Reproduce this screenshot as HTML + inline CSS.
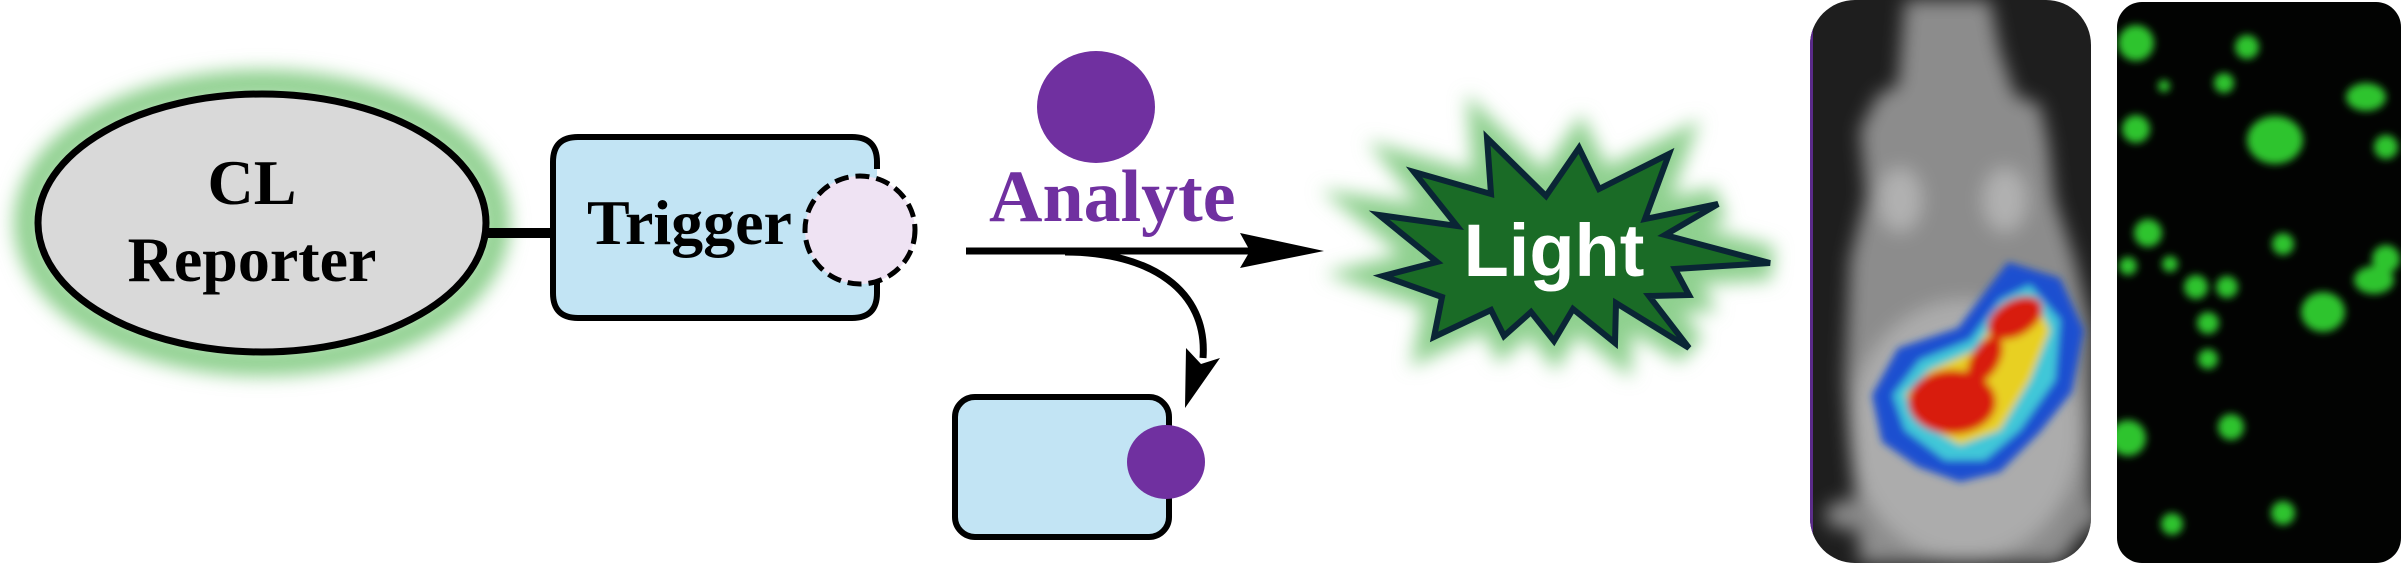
<!DOCTYPE html>
<html><head><meta charset="utf-8"><style>
html,body{margin:0;padding:0;background:#fff;}
svg{display:block;}
</style></head><body>
<svg width="2401" height="563" viewBox="0 0 2401 563" xmlns="http://www.w3.org/2000/svg">
<defs>
<filter id="glow" x="-30%" y="-30%" width="160%" height="160%"><feGaussianBlur stdDeviation="9"/></filter>
<filter id="soft" x="-50%" y="-50%" width="200%" height="200%"><feGaussianBlur stdDeviation="4"/></filter>
<filter id="soft2" x="-50%" y="-50%" width="200%" height="200%"><feGaussianBlur stdDeviation="9"/></filter>
<filter id="heat" x="-20%" y="-20%" width="140%" height="140%"><feGaussianBlur stdDeviation="4"/></filter>
<clipPath id="c1"><rect x="1810" y="0" width="281" height="563" rx="45"/></clipPath>
<clipPath id="c2"><rect x="2117" y="2" width="284" height="561" rx="25"/></clipPath>
</defs>

<ellipse cx="262" cy="223" rx="234" ry="139" fill="none" stroke="#8fd08f" stroke-width="28" filter="url(#glow)"/>
<line x1="485" y1="233" x2="556" y2="233" stroke="#000" stroke-width="10"/>
<ellipse cx="262" cy="223" rx="224" ry="129" fill="#d9d9d9" stroke="#000" stroke-width="7"/>
<text x="252" y="204" text-anchor="middle" font-family="Liberation Serif, serif" font-weight="bold" font-size="64">CL</text>
<text x="252" y="281" text-anchor="middle" font-family="Liberation Serif, serif" font-weight="bold" font-size="64">Reporter</text>

<path d="M877 169 L877 162 Q877 137 852 137 L578 137 Q553 137 553 162 L553 293 Q553 318 578 318 L852 318 Q877 318 877 293 L877 276" fill="#c2e4f4" stroke="#000" stroke-width="6"/>
<ellipse cx="860" cy="230" rx="55" ry="54" fill="#efe3f3" stroke="#000" stroke-width="5" stroke-dasharray="14 7"/>
<text x="587" y="244" font-family="Liberation Serif, serif" font-weight="bold" font-size="64">Trigger</text>

<ellipse cx="1096" cy="107" rx="59" ry="56" fill="#7030a0"/>
<text x="989" y="221" font-family="Liberation Serif, serif" font-weight="bold" font-size="74" fill="#7030a0">Analyte</text>

<line x1="966" y1="251" x2="1255" y2="251" stroke="#000" stroke-width="7"/>
<polygon points="1240,233 1324,251 1240,268 1250,251" fill="#000"/>
<path d="M1065 252 C1150 252 1208 290 1203 358" fill="none" stroke="#000" stroke-width="7"/>
<polygon points="1186,348 1201,364 1220,358 1185,408" fill="#000"/>

<rect x="955" y="397" width="214" height="140" rx="20" fill="#c2e4f4" stroke="#000" stroke-width="6"/>
<ellipse cx="1166" cy="462" rx="39" ry="37" fill="#7030a0"/>

<polygon points="1487,138 1546,196 1579,148 1599,189 1669,154 1645,219 1718,204 1665,235 1770,263 1675,269 1689,295 1649,296 1689,348 1616,303 1615,343 1573,309 1554,341 1531,312 1504,336 1491,310 1434,337 1442,297 1383,276 1437,262 1379,215 1457,226 1414,172 1491,194" fill="#8fd08f" stroke="#8fd08f" stroke-width="34" filter="url(#glow)"/>
<polygon points="1487,138 1546,196 1579,148 1599,189 1669,154 1645,219 1718,204 1665,235 1770,263 1675,269 1689,295 1649,296 1689,348 1616,303 1615,343 1573,309 1554,341 1531,312 1504,336 1491,310 1434,337 1442,297 1383,276 1437,262 1379,215 1457,226 1414,172 1491,194" fill="#1a6b26" stroke="#0a2535" stroke-width="6"/>
<text x="1554" y="276" text-anchor="middle" font-family="Liberation Sans, sans-serif" font-weight="bold" font-size="74" fill="#fff">Light</text>

<g clip-path="url(#c1)">
<rect x="1810" y="0" width="281" height="563" fill="#1e1e1e"/>
<rect x="1810" y="0" width="3" height="563" fill="#5a2a8a"/>
<g filter="url(#soft2)">
<path d="M1905 0 L1990 0 L2000 50 L2015 95 L2040 105 L2048 140 L2055 200 L2075 260 L2092 330 L2092 520 L2060 563 L1860 563 L1855 500 L1845 380 L1850 260 L1866 195 L1860 130 L1878 95 L1898 85 Z" fill="#8c8c8c"/>
<ellipse cx="1965" cy="430" rx="115" ry="130" fill="#acacac"/>
<ellipse cx="1900" cy="200" rx="22" ry="32" fill="#b0b0b0"/>
<ellipse cx="2005" cy="200" rx="22" ry="32" fill="#b0b0b0"/>
<ellipse cx="1850" cy="515" rx="25" ry="15" fill="#888"/>
<ellipse cx="2080" cy="515" rx="20" ry="15" fill="#888"/>
</g>
<g filter="url(#heat)">
<path d="M1872 395 L1898 348 L1958 328 L1988 288 L2008 262 L2060 278 L2084 330 L2072 392 L2040 432 L2000 472 L1960 482 L1918 467 L1882 442 Z" fill="#1d4fd0"/>
<path d="M1893 395 L1920 360 L1970 340 L2000 300 L2030 285 L2060 320 L2055 380 L2020 430 L1985 460 L1945 460 L1905 430 Z" fill="#3fc7d8"/>
<path d="M1905 395 L1930 370 L1975 350 L2005 305 L2035 300 L2050 330 L2030 380 L2000 430 L1960 445 L1925 425 Z" fill="#e8d020"/>
<ellipse cx="1952" cy="402" rx="44" ry="32" fill="#d81a0a"/>
<ellipse cx="2015" cy="318" rx="30" ry="18" fill="#d81a0a" transform="rotate(-30 2015 318)"/>
<ellipse cx="1985" cy="360" rx="14" ry="26" fill="#d81a0a" transform="rotate(30 1985 360)"/>
</g>
</g>

<g clip-path="url(#c2)">
<rect x="2117" y="2" width="284" height="561" fill="#020302"/>
<g fill="#2ec42e" filter="url(#soft)">
<circle cx="2136" cy="43" r="18"/>
<circle cx="2247" cy="47" r="12"/>
<circle cx="2224" cy="83" r="10"/>
<circle cx="2164" cy="86" r="6"/>
<circle cx="2136" cy="129" r="14"/>
<ellipse cx="2275" cy="140" rx="28" ry="24"/>
<ellipse cx="2366" cy="97" rx="20" ry="14"/>
<circle cx="2386" cy="147" r="12"/>
<circle cx="2148" cy="233" r="14"/>
<circle cx="2283" cy="244" r="11"/>
<circle cx="2128" cy="266" r="9"/>
<circle cx="2170" cy="264" r="8"/>
<circle cx="2196" cy="287" r="12"/>
<circle cx="2227" cy="287" r="11"/>
<ellipse cx="2323" cy="312" rx="22" ry="20"/>
<ellipse cx="2374" cy="280" rx="20" ry="14"/>
<circle cx="2386" cy="259" r="14"/>
<circle cx="2208" cy="323" r="11"/>
<circle cx="2208" cy="359" r="10"/>
<circle cx="2128" cy="438" r="18"/>
<circle cx="2231" cy="427" r="13"/>
<circle cx="2283" cy="513" r="12"/>
<circle cx="2172" cy="524" r="11"/>
</g>
</g>
</svg>
</body></html>
